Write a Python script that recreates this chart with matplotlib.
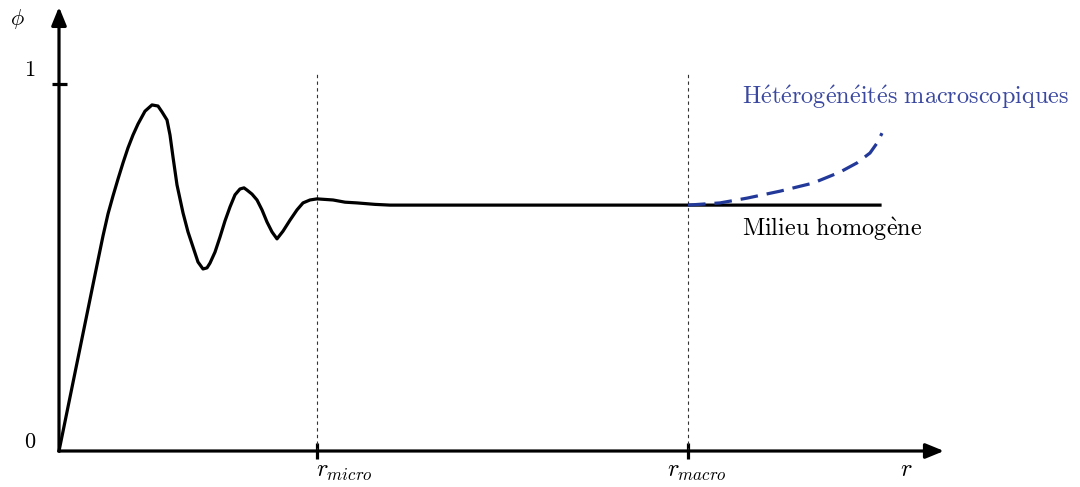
import numpy as np
import matplotlib.pyplot as plt

plt.rcParams['mathtext.fontset'] = 'cm'

# --- data (r in arbitrary units, phi normalised so that 1 is the top tick)
r_curve = [0.00, 0.39, 0.44, 0.49, 0.54, 0.59, 0.64, 0.69, 0.74, 0.79,
           0.86, 0.93, 0.99, 1.03, 1.08, 1.11, 1.14, 1.18, 1.24, 1.29,
           1.34, 1.39, 1.44, 1.48, 1.51, 1.56, 1.61, 1.66, 1.71, 1.76,
           1.81, 1.85, 1.88, 1.93, 1.98, 2.03, 2.08, 2.13, 2.18, 2.24,
           2.31, 2.38, 2.44, 2.51, 2.58, 2.74, 2.86, 2.98, 3.16, 3.31, 8.21]
phi_curve = [0.000, 0.520, 0.586, 0.646, 0.695, 0.741, 0.785, 0.826, 0.861, 0.891,
             0.926, 0.943, 0.940, 0.924, 0.902, 0.861, 0.801, 0.725, 0.649, 0.597,
             0.556, 0.515, 0.496, 0.499, 0.512, 0.542, 0.583, 0.627, 0.665, 0.698,
             0.714, 0.717, 0.711, 0.700, 0.684, 0.657, 0.624, 0.597, 0.578, 0.599,
             0.629, 0.657, 0.676, 0.684, 0.687, 0.684, 0.678, 0.676, 0.672, 0.670, 0.670]

r_macro_curve = [6.29, 6.61, 6.88, 7.21, 7.54, 7.81, 7.98, 8.11, 8.18, 8.23]
phi_macro_curve = [0.670, 0.676, 0.689, 0.708, 0.730, 0.760, 0.785, 0.812, 0.839, 0.866]

r_micro = 2.58
r_macro = 6.29

fig = plt.figure(figsize=(10.8, 4.87), dpi=100)
ax = fig.add_axes([0, 0, 1, 1])
ax.set_xlim(-0.59, 10.21)
ax.set_ylim(-0.0981, 1.2289)
ax.axis('off')

lw = 2.3
# axes arrows
ax.annotate('', xy=(8.85, 0), xytext=(0, 0),
            arrowprops=dict(arrowstyle='-|>,head_length=1.1,head_width=0.45', lw=lw, color='black',
                            shrinkA=0, shrinkB=0))
ax.annotate('', xy=(0, 1.21), xytext=(0, 0),
            arrowprops=dict(arrowstyle='-|>,head_length=1.1,head_width=0.45', lw=lw, color='black',
                            shrinkA=0, shrinkB=0))

# ticks and guide lines
ax.plot([-0.07, 0.08], [1, 1], color='black', lw=lw, solid_capstyle='butt')
for xv in [r_micro, r_macro]:
    ax.plot([xv, xv], [-0.022, 0.022], color='black', lw=lw, solid_capstyle='butt')
    ax.plot([xv, xv], [0, 1.034], color='#333333', lw=0.8, ls=(0, (3, 3)))

# curves
ax.plot(r_curve, phi_curve, color='black', lw=lw, solid_joinstyle='round', zorder=3)
ax.plot(r_macro_curve, phi_macro_curve, color='#23399a', lw=lw, ls=(0, (5.5, 2.8)), zorder=4)

fs = 17.5
ax.text(-0.42, 1.178, r'$\phi$', fontsize=16, ha='center', va='center')
ax.text(-0.29, 1.038, r'$1$', fontsize=16, ha='center', va='center')
ax.text(-0.29, 0.025, r'$0$', fontsize=16, ha='center', va='center')
ax.text(r_micro - 0.01, -0.055, r'$r_{micro}$', fontsize=fs, ha='left', va='center')
ax.text(r_macro + 0.09, -0.055, r'$r_{macro}$', fontsize=fs, ha='center', va='center')
ax.text(8.47, -0.048, r'$r$', fontsize=fs, ha='center', va='center')

ax.text(6.83, 0.963,
        r'$\mathrm{H\acute{e}t\acute{e}rog\acute{e}n\acute{e}it\acute{e}s\ macroscopiques}$',
        fontsize=fs, color='#3a48a0', ha='left', va='center')
ax.text(6.83, 0.605, r'$\mathrm{Milieu\ homog\grave{e}ne}$',
        fontsize=fs, color='black', ha='left', va='center')

fig.savefig('out.png', dpi=100)
